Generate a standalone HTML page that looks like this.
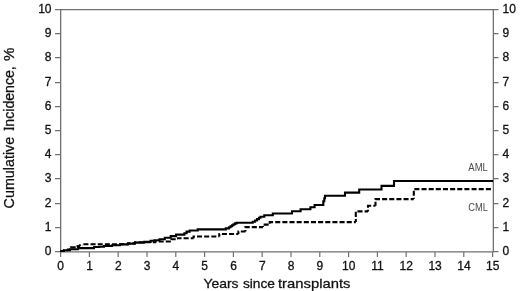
<!DOCTYPE html>
<html><head><meta charset="utf-8"><style>
html,body{margin:0;padding:0;background:#fff;}
svg{display:block;will-change:transform;font-family:"Liberation Sans",sans-serif;}
</style></head><body>
<svg width="520" height="291" viewBox="0 0 520 291">
<rect width="520" height="291" fill="#fff"/>
<path d="M60.05 9.7H493.95000000000005M60.65 9.7V251.8M493.35 9.7V251.8M60.05 251.8H493.95000000000005" stroke="#707070" stroke-width="1.3" fill="none"/>
<path d="M55 251.6H60M494 251.6H498.5M55 227.6H60M494 227.6H498.5M55 203.6H60M494 203.6H498.5M55 178.6H60M494 178.6H498.5M55 154.6H60M494 154.6H498.5M55 130.6H60M494 130.6H498.5M55 106.6H60M494 106.6H498.5M55 82.6H60M494 82.6H498.5M55 57.6H60M494 57.6H498.5M55 33.6H60M494 33.6H498.5M55 9.6H60M494 9.6H498.5M60.6 252V257M89.4 252V257M118.2 252V257M147.0 252V257M175.8 252V257M204.6 252V257M233.4 252V257M262.2 252V257M291.0 252V257M319.8 252V257M348.6 252V257M377.4 252V257M406.2 252V257M435.0 252V257M463.8 252V257M492.6 252V257" stroke="#707070" stroke-width="1.2" fill="none"/>
<g font-size="12" fill="#111" stroke="#111" stroke-width="0.3"><text x="51.5" y="255.3" text-anchor="end">0</text><text x="502.5" y="255.3">0</text><text x="51.5" y="231.3" text-anchor="end">1</text><text x="502.5" y="231.3">1</text><text x="51.5" y="207.3" text-anchor="end">2</text><text x="502.5" y="207.3">2</text><text x="51.5" y="182.3" text-anchor="end">3</text><text x="502.5" y="182.3">3</text><text x="51.5" y="158.3" text-anchor="end">4</text><text x="502.5" y="158.3">4</text><text x="51.5" y="134.3" text-anchor="end">5</text><text x="502.5" y="134.3">5</text><text x="51.5" y="110.3" text-anchor="end">6</text><text x="502.5" y="110.3">6</text><text x="51.5" y="86.3" text-anchor="end">7</text><text x="502.5" y="86.3">7</text><text x="51.5" y="61.3" text-anchor="end">8</text><text x="502.5" y="61.3">8</text><text x="51.5" y="37.3" text-anchor="end">9</text><text x="502.5" y="37.3">9</text><text x="51.5" y="13.3" text-anchor="end">10</text><text x="502.5" y="13.3">10</text><text x="60.7" y="269.6" text-anchor="middle">0</text><text x="89.5" y="269.6" text-anchor="middle">1</text><text x="118.3" y="269.6" text-anchor="middle">2</text><text x="147.1" y="269.6" text-anchor="middle">3</text><text x="175.9" y="269.6" text-anchor="middle">4</text><text x="204.7" y="269.6" text-anchor="middle">5</text><text x="233.5" y="269.6" text-anchor="middle">6</text><text x="262.3" y="269.6" text-anchor="middle">7</text><text x="291.1" y="269.6" text-anchor="middle">8</text><text x="319.9" y="269.6" text-anchor="middle">9</text><text x="348.7" y="269.6" text-anchor="middle">10</text><text x="377.5" y="269.6" text-anchor="middle">11</text><text x="406.3" y="269.6" text-anchor="middle">12</text><text x="435.1" y="269.6" text-anchor="middle">13</text><text x="463.9" y="269.6" text-anchor="middle">14</text><text x="492.7" y="269.6" text-anchor="middle">15</text></g>
<path d="M60 251H64V250.2H70V249.3H78V248.1H94V247.0H99V246.8H104V246.0H112V245.3H120V244.4H128V243.6H135V242.6H144.2V241.9H150.6V240.8H154.3V240.2H159.5V239.2H164.8V237.8H170.7V236.1H176V234.6H184.4V233.2H186.6V231.6H189.7V230.5H197.7V229.4H225.8V228.4H229V227.3H230.5V226.3H232V225.3H233.5V224.3H235V223.4H236.6V222.8H252.7V221.8H255V220.5H257V219.1H259V217.8H260.5V216.7H264.3V215.2H272.8V213.5H292V211.3H300.6V209.3H310.4V207.2H314.6V205H323.3V201.3H324.3V198.2H325.0V195.7H345V192.6H359.2V189.5H381.5V185.9H394V181.0H493V181.0" stroke="#000" stroke-width="2.1" fill="none"/>
<path d="M60 251H64" stroke="#000" stroke-width="2.1" stroke-dasharray="5.05 2.1" stroke-dashoffset="0.00" fill="none"/>
<path d="M64 251V250.2H68" stroke="#000" stroke-width="2.1" stroke-dasharray="5.05 2.1" stroke-dashoffset="4.00" fill="none"/>
<path d="M68 250.2V249.5H71" stroke="#000" stroke-width="2.1" stroke-dasharray="5.05 2.1" stroke-dashoffset="1.65" fill="none"/>
<path d="M71 249.5V247.4H76" stroke="#000" stroke-width="2.1" stroke-dasharray="5.05 2.1" stroke-dashoffset="5.35" fill="none"/>
<path d="M76 247.4V246.1H80" stroke="#000" stroke-width="2.1" stroke-dasharray="5.05 2.1" stroke-dashoffset="5.30" fill="none"/>
<path d="M80 246.1V245.2H83" stroke="#000" stroke-width="2.1" stroke-dasharray="5.05 2.1" stroke-dashoffset="3.45" fill="none"/>
<path d="M83 245.2V244.3H110" stroke="#000" stroke-width="2.1" stroke-dasharray="5.05 2.1" stroke-dashoffset="5.85" fill="none"/>
<path d="M110 244.3V244.3H119" stroke="#000" stroke-width="2.1" stroke-dasharray="5.05 2.1" stroke-dashoffset="5.15" fill="none"/>
<path d="M119 244.3V244.2H128" stroke="#000" stroke-width="2.1" stroke-dasharray="5.05 2.1" stroke-dashoffset="7.00" fill="none"/>
<path d="M128 244.2V243.4H135" stroke="#000" stroke-width="2.1" stroke-dasharray="5.05 2.1" stroke-dashoffset="1.80" fill="none"/>
<path d="M135 243.4V242.2H156" stroke="#000" stroke-width="2.1" stroke-dasharray="5.05 2.1" stroke-dashoffset="2.45" fill="none"/>
<path d="M156 242.2V241.5H171.5" stroke="#000" stroke-width="2.1" stroke-dasharray="5.05 2.1" stroke-dashoffset="3.80" fill="none"/>
<path d="M171.5 241.5V239.2H178" stroke="#000" stroke-width="2.1" stroke-dasharray="5.05 2.1" stroke-dashoffset="5.70" fill="none"/>
<path d="M178 239.2V238.3H193.6" stroke="#000" stroke-width="2.1" stroke-dasharray="5.05 2.1" stroke-dashoffset="0.65" fill="none"/>
<path d="M193.6 238.3V236.5H219.3" stroke="#000" stroke-width="2.1" stroke-dasharray="5.05 2.1" stroke-dashoffset="1.95" fill="none"/>
<path d="M219.3 236.5V234H238.4" stroke="#000" stroke-width="2.1" stroke-dasharray="5.05 2.1" stroke-dashoffset="2.05" fill="none"/>
<path d="M238.4 234V231.5H245.4" stroke="#000" stroke-width="2.1" stroke-dasharray="5.05 2.1" stroke-dashoffset="2.20" fill="none"/>
<path d="M245.4 231.5V227.1H263" stroke="#000" stroke-width="2.1" stroke-dasharray="5.05 2.1" stroke-dashoffset="3.50" fill="none"/>
<path d="M263 227.1V224.6H269.7" stroke="#000" stroke-width="2.1" stroke-dasharray="5.05 2.1" stroke-dashoffset="4.05" fill="none"/>
<path d="M269.7 224.6V222.1H355.8" stroke="#000" stroke-width="2.1" stroke-dasharray="5.05 2.1" stroke-dashoffset="6.30" fill="none"/>
<path d="M355.8 222.1V211.4H368" stroke="#000" stroke-width="2.1" stroke-dasharray="5.05 2.1" stroke-dashoffset="1.95" fill="none"/>
<path d="M368 211.4V205.8H375.5" stroke="#000" stroke-width="2.1" stroke-dasharray="5.05 2.1" stroke-dashoffset="3.40" fill="none"/>
<path d="M375.5 205.8V199.1H413.8" stroke="#000" stroke-width="2.1" stroke-dasharray="5.05 2.1" stroke-dashoffset="1.00" fill="none"/>
<path d="M413.8 199.1V189.1H493" stroke="#000" stroke-width="2.1" stroke-dasharray="5.05 2.1" stroke-dashoffset="3.75" fill="none"/>
<text x="468.3" y="171.1" font-size="10.1" fill="#4a4a4a" textLength="19.6" lengthAdjust="spacingAndGlyphs">AML</text>
<text x="468.3" y="211.0" font-size="10.1" fill="#4a4a4a" textLength="19.6" lengthAdjust="spacingAndGlyphs">CML</text>
<text x="203.40" y="288.3" font-size="13.6" fill="#111" stroke="#111" stroke-width="0.28" textLength="35.10" lengthAdjust="spacingAndGlyphs">Years</text>
<text x="242.90" y="288.3" font-size="13.6" fill="#111" stroke="#111" stroke-width="0.28" textLength="32.10" lengthAdjust="spacingAndGlyphs">since</text>
<text x="278.00" y="288.3" font-size="13.6" fill="#111" stroke="#111" stroke-width="0.28" textLength="72.40" lengthAdjust="spacingAndGlyphs">transplants</text>
<text transform="translate(13.6 208.40) rotate(-90)" font-size="14" fill="#111" stroke="#111" stroke-width="0.28" textLength="71.60" lengthAdjust="spacingAndGlyphs">Cumulative</text>
<text transform="translate(13.6 130.60) rotate(-90)" font-size="14" fill="#111" stroke="#111" stroke-width="0.28" textLength="64.40" lengthAdjust="spacingAndGlyphs">Incidence,</text>
<text transform="translate(13.6 61.10) rotate(-90)" font-size="14" fill="#111" stroke="#111" stroke-width="0.28" textLength="13.40" lengthAdjust="spacingAndGlyphs">%</text>
<path d="M4.3 127.4V130.4M13.2 127.4V130.4" stroke="#111" stroke-width="1.1"/>
</svg>
</body></html>
